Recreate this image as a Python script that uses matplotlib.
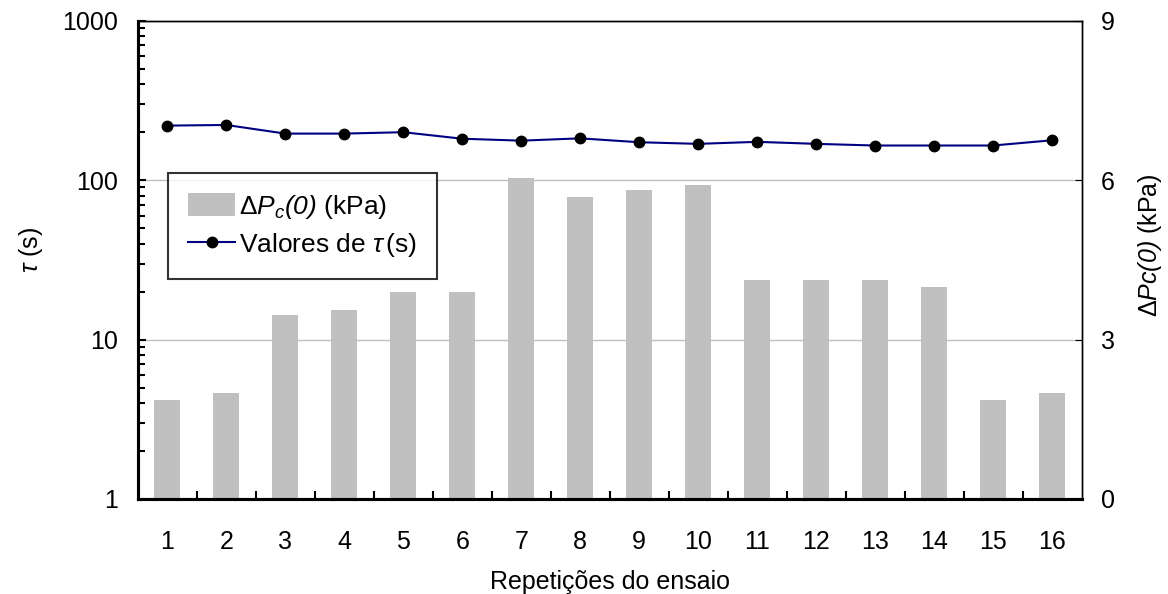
import numpy as np
import matplotlib
matplotlib.use("Agg")
import matplotlib.pyplot as plt
from matplotlib.ticker import FixedLocator, NullFormatter

plt.rcParams['font.family'] = ['Liberation Sans', 'DejaVu Sans']
plt.rcParams['mathtext.fontset'] = 'custom'
plt.rcParams['mathtext.rm'] = 'Liberation Sans'
plt.rcParams['mathtext.it'] = 'Liberation Sans:italic'
# bf slot used as "italic for everything" (digits/parens too)
plt.rcParams['mathtext.bf'] = 'Liberation Sans:italic'

# data
ensaios = np.arange(1, 17)
tau = [220, 222, 196, 196, 200, 182, 177, 183, 173, 169, 174, 169, 165, 165, 165, 178]
dpc0 = [1.86, 2.0, 3.46, 3.56, 3.9, 3.9, 6.04, 5.69, 5.82, 5.91, 4.12, 4.12, 4.12, 3.99, 1.86, 2.0]

narrow = ['Liberation Sans Narrow', 'Liberation Sans', 'DejaVu Sans']
fs = 18

fig = plt.figure(figsize=(11.68, 5.94), dpi=100)
ax = fig.add_axes([0.118, 0.16, 0.808, 0.805])
ax2 = ax.twinx()

# bars on the right axis (kPa)
ax2.bar(ensaios, dpc0, width=0.44, color='#c0c0c0', zorder=2,
        label=r'$\Delta \mathit{P}_{\mathit{c}}\mathbf{(0)}$ (kPa)')
ax2.set_ylim(0, 9)
ax2.set_yticks([0, 3, 6, 9])
ax2.yaxis.grid(True, color='#c0c0c0', linewidth=1.0)
ax2.set_axisbelow(True)
ax2.tick_params(axis='y', direction='in', length=5, labelsize=fs, pad=14)
ax2.set_ylabel(r'$\Delta \mathit{Pc}\mathbf{(0)}$ (kPa)', fontsize=fs)
ax2.yaxis.set_label_coords(1.058, 0.53)

# tau line on the left log axis
ax.set_zorder(ax2.get_zorder() + 1)
ax.patch.set_visible(False)
ax.plot(ensaios, tau, color='#000080', linewidth=1.5, marker='o', markersize=7.5,
        markerfacecolor='black', markeredgecolor='black', label=r'Valores de $\tau\,$(s)')
ax.set_yscale('log')
ax.set_ylim(1, 1000)
ax.set_yticks([1, 10, 100, 1000])
ax.set_yticklabels(['1', '10', '100', '1000'])
ax.tick_params(axis='y', which='major', direction='in', length=6, width=1.5, labelsize=fs, pad=14)
ax.tick_params(axis='y', which='minor', direction='in', length=5, width=1.5)
ax.set_ylabel(r'$\tau$ (s)', fontsize=fs)
ax.yaxis.set_label_coords(-0.098, 0.52)

ax.set_xlim(0.5, 16.5)
ax.set_xticks(ensaios)
ax.xaxis.set_minor_locator(FixedLocator(ensaios[:-1] + 0.5))
ax.xaxis.set_minor_formatter(NullFormatter())
ax.tick_params(axis='x', which='major', length=0, labelsize=fs, pad=22)
ax.tick_params(axis='x', which='minor', direction='in', length=6, width=1.5)
for lbl in ax.get_xticklabels():
    lbl.set_family(narrow)
ax.set_xlabel('Repetições do ensaio', fontsize=fs, family=narrow, labelpad=12)

for a in (ax, ax2):
    a.spines['left'].set_linewidth(2.2)
    a.spines['bottom'].set_linewidth(2.2)
    a.spines['top'].set_linewidth(1.0)
    a.spines['right'].set_linewidth(1.0)

h1, l1 = ax2.get_legend_handles_labels()
h2, l2 = ax.get_legend_handles_labels()
leg = ax.legend(h1 + h2, l1 + l2, loc='upper left', bbox_to_anchor=(0.032, 0.682),
                fontsize=19, frameon=True, fancybox=False, edgecolor='black',
                handlelength=1.8, handleheight=1.0, handletextpad=0.15, borderpad=0.75,
                labelspacing=0.4, borderaxespad=0)
leg.get_frame().set_linewidth(1.5)

fig.savefig('out.png', dpi=100)
